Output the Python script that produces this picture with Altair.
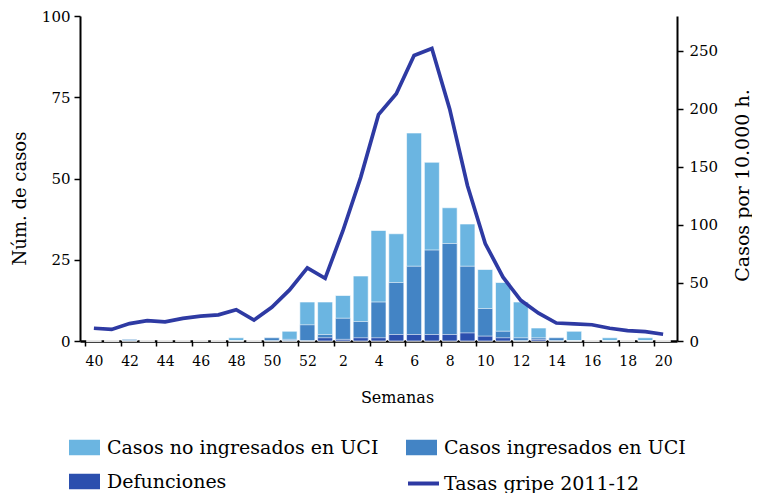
import altair as alt
import pandas as pd

# Week labels (season 2011-12)
weeks = [40, 41, 42, 43, 44, 45, 46, 47, 48, 49, 50, 51, 52,
         1, 2, 3, 4, 5, 6, 7, 8, 9, 10, 11, 12, 13, 14, 15, 16, 17, 18, 19, 20]

# Total cases (bar "Casos no ingresados en UCI" drawn to full height)
total_cases = [0, 0, 0.5, 0, 0, 0, 0, 0, 1, 0, 1, 3, 12,
               12, 14, 20, 34, 33, 64, 55, 41, 36, 22, 18, 12, 4, 1, 3, 0, 1, 0, 1, 0]
# Cases admitted to ICU
icu_cases = [0, 0, 0.5, 0, 0, 0, 0, 0, 0, 0, 1, 0.5, 5,
             2, 7, 6, 12, 18, 23, 28, 30, 23, 10, 3, 1, 1, 1, 0, 0, 0, 0, 0, 0]
# Deaths
deaths = [0, 0, 0, 0, 0, 0, 0, 0, 0, 0, 0, 0, 0,
          1, 0.5, 1, 1, 2, 2, 2, 2, 2.5, 1.5, 1, 0, 0.5, 0, 0, 0, 0, 0, 0, 0]
# Influenza rate 2011-12 (cases per 10,000 inhabitants)
flu_rate = [11, 10, 15, 17.5, 16.5, 19.5, 21.5, 22.5, 27, 18, 29, 44, 63,
            54, 95, 141, 195, 213, 246, 252, 200, 134, 84, 55, 35, 24, 15.5, 14.7, 14, 11, 9, 8, 5.8]

left_ticks = [0, 25, 50, 75, 100]
right_ticks = [0, 50, 100, 150, 200, 250]

df = pd.DataFrame({
    "idx": list(range(len(weeks))),
    "week": weeks,
    "total": total_cases,
    "icu": icu_cases,
    "deaths": deaths,
    "rate": flu_rate,
})

FONT = "DejaVu Serif"
C_LIGHT = "#6BB5E1"
C_MID = "#4384C5"
C_DARK = "#2B4FAE"
C_LINE = "#2E3AA3"

tick_vals = [i - 0.5 for i in range(0, 33, 2)]
label_expr = ("(datum.value + 0.5) <= 12 ? format(40 + datum.value + 0.5, 'd') : "
              "format(datum.value + 0.5 - 12, 'd')")

x_enc = alt.X(
    "idx:Q",
    scale=alt.Scale(domain=[-0.5, 32.5], nice=False, zero=False),
    axis=alt.Axis(values=tick_vals, labelExpr=label_expr, labelOffset=9,
                  labelFlush=False, labelOverlap=False,
                  title="Semanas", titleX=317, grid=False, tickSize=5, labelPadding=8,
                  titlePadding=21, domainWidth=2.5, domainColor="black",
                  tickColor="black", tickWidth=1.5,
                  labelFont=FONT, labelFontSize=14, titleFont=FONT,
                  titleFontSize=16, titleFontWeight="normal", labelColor="black",
                  titleColor="black"),
)

y_scale = alt.Scale(domain=[0, 100], nice=False)
y_axis = alt.Axis(values=left_ticks, title="Núm. de casos", titleY=182, grid=False, tickSize=6,
                  labelPadding=4, titlePadding=12, domainWidth=2, domainColor="black",
                  tickColor="black", tickWidth=1.5, labelFont=FONT, labelFontSize=15,
                  labelFlush=False,
                  titleFont=FONT, titleFontSize=18, titleFontWeight="normal",
                  labelColor="black", titleColor="black")

box = "M-1,-0.5H1V0.5H-1Z"


def legend_at(x, y, symbol=box, stroke=False):
    kw = dict(orient="none", legendX=x, legendY=y, title=None, padding=0,
              labelFont=FONT, labelFontSize=19, labelColor="black",
              labelOffset=3 if stroke else 7,
              labelLimit=400,
              symbolSize=961, symbolType=symbol, symbolOpacity=1)
    if stroke:
        kw["symbolStrokeWidth"] = 4
    else:
        kw["symbolStrokeWidth"] = 0
    return alt.Legend(**kw)


base = alt.Chart(df)


def bar_layer(field, name, color, lx, ly):
    return base.transform_calculate(serie=f"'{name}'").mark_bar(
        size=15, stroke="white", strokeWidth=1, strokeOpacity=0.6
    ).encode(
        x=x_enc,
        y=alt.Y(f"{field}:Q", scale=y_scale, axis=y_axis),
        color=alt.Color("serie:N", scale=alt.Scale(domain=[name], range=[color]),
                        legend=legend_at(lx, ly)),
    )


light = bar_layer("total", "Casos no ingresados en UCI", C_LIGHT, -11, 416)
mid = bar_layer("icu", "Casos ingresados en UCI", C_MID, 326, 416)
dark = bar_layer("deaths", "Defunciones", C_DARK, -11, 450)

bars = alt.layer(light, mid, dark).resolve_scale(color="independent")

line = base.transform_calculate(serie="'Tasas gripe 2011-12'").mark_line(
    strokeWidth=3.7, color=C_LINE
).encode(
    x=x_enc,
    y=alt.Y("rate:Q", scale=alt.Scale(domain=[0, 280], nice=False),
            axis=alt.Axis(orient="right", values=right_ticks, title="Casos por 10.000 h.",
                          grid=False, tickSize=6, labelPadding=6,
                          titleAngle=270, titleX=65, titleY=169, titleAlign="center",
                          titleBaseline="middle", labelFlush=False,
                          domainWidth=2, domainColor="black",
                          tickColor="black", tickWidth=1.5, labelFont=FONT,
                          labelFontSize=15, titleFont=FONT, titleFontSize=19,
                          titleFontWeight="normal", labelColor="black",
                          titleColor="black")),
    stroke=alt.Stroke("serie:N", scale=alt.Scale(domain=["Tasas gripe 2011-12"], range=[C_LINE]),
                      legend=legend_at(326, 450, symbol="stroke", stroke=True)),
)

chart = alt.layer(bars, line).resolve_scale(
    y="independent", color="independent", stroke="independent"
).properties(
    width=597, height=325,
    padding={"left": 72, "top": 8, "right": 75, "bottom": 152},
    autosize=alt.AutoSizeParams(type="none"),
    background="white",
).configure_view(stroke=None)

chart.save("out.html", embed_options={"renderer": "svg", "actions": False})
